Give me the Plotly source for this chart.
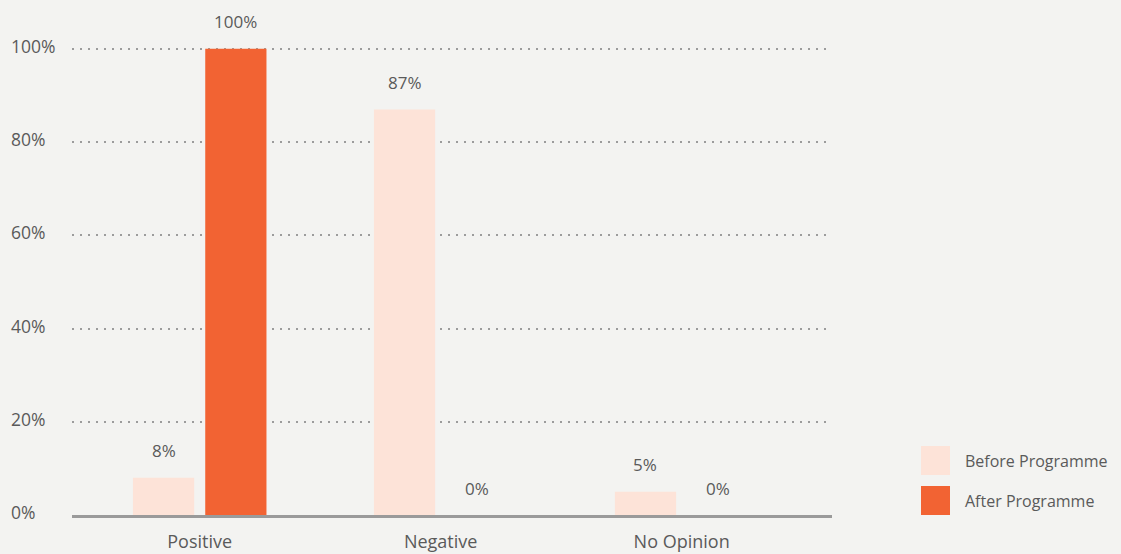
import plotly.graph_objects as go

categories = ["Positive", "Negative", "No Opinion"]
series_names = ["Before Programme", "After Programme"]
before_values = [8, 87, 5]
after_values = [100, 0, 0]
y_tick_values = [0, 20, 40, 60, 80, 100]
y_tick_labels = ["0%", "20%", "40%", "60%", "80%", "100%"]

colors = ["#fde3d8", "#f26333"]
bg = "#f3f3f1"
text_color = "#5a5a5a"
font_family = "Open Sans"
bargap = 0.40
bargroupgap = 0.153

fig = go.Figure()
all_values = [before_values, after_values]
for name, vals, col in zip(series_names, all_values, colors):
    fig.add_trace(go.Bar(
        name=name, x=categories, y=vals, marker=dict(color=col, line=dict(width=0)),
        showlegend=False, hoverinfo="skip",
    ))

# value labels above bars (anchored to data)
n = len(series_names)
slot = (1 - bargap) / n
for si, vals in enumerate(all_values):
    for ci, v in enumerate(vals):
        xoff = (si - (n - 1) / 2) * slot
        fig.add_annotation(
            x=ci + xoff, y=v, xref="x", yref="y", text=f"{v}%",
            showarrow=False, yshift=27, yanchor="middle",
            font=dict(family=font_family, size=17, color=text_color),
        )

plot_left, plot_right, plot_top, plot_bottom = 72, 832, 47, 515
pw = plot_right - plot_left
ph = plot_bottom - plot_top
def px_x(px):
    return (px - plot_left) / pw
def px_y(py):
    return (plot_bottom - py) / ph

# left-aligned y tick labels
for tv, tl in zip(y_tick_values, y_tick_labels):
    fig.add_annotation(xref="paper", yref="y", x=px_x(9), y=tv, text=tl,
                       showarrow=False, xanchor="left", yanchor="middle", yshift=3,
                       font=dict(family=font_family, size=17.5, color=text_color))

# custom legend
for i, (name, col) in enumerate(zip(series_names, colors)):
    top = 446 + i * 40
    fig.add_shape(type="rect", xref="paper", yref="paper",
                  x0=px_x(921), x1=px_x(950), y0=px_y(top + 29), y1=px_y(top),
                  fillcolor=col, line=dict(width=0))
    fig.add_annotation(xref="paper", yref="paper", x=px_x(963), y=px_y(top + 15),
                       text=name, showarrow=False, xanchor="left", yanchor="middle",
                       font=dict(family=font_family, size=16, color=text_color))

fig.update_layout(
    width=1121, height=554,
    margin=dict(l=plot_left, r=1121 - plot_right, t=plot_top, b=554 - plot_bottom),
    paper_bgcolor=bg, plot_bgcolor=bg,
    barmode="group", bargap=bargap, bargroupgap=bargroupgap,
    font=dict(family=font_family, color=text_color, size=17),
    xaxis=dict(
        type="category", range=[-0.53, 2.624], automargin=False,
        showline=True, linecolor="#9a9a9a", linewidth=3,
        showgrid=False, ticks="", ticklabelstandoff=8,
        tickfont=dict(size=18, color=text_color),
    ),
    yaxis=dict(
        range=[0, 100.4], tickvals=y_tick_values, showticklabels=False,
        automargin=False,
        showgrid=True, gridcolor="#9c9c9c", griddash="2px,6px", gridwidth=2,
        zeroline=False, showline=False, ticks="",
    ),
)

fig.write_html("out.html")
